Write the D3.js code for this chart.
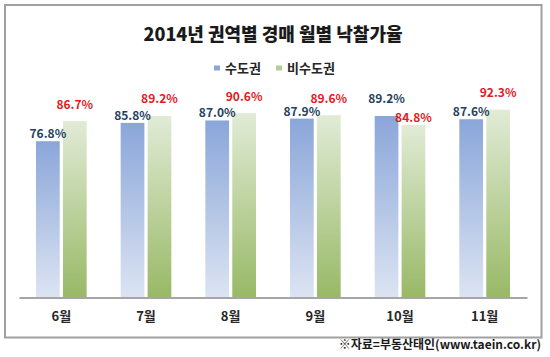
<!DOCTYPE html>
<html><head><meta charset="utf-8">
<script src="https://d3js.org/d3.v7.min.js"></script>
<style>
html,body{margin:0;padding:0;background:#fff;}
svg{display:block;font-family:"Noto Sans CJK KR","Noto Sans",sans-serif;}
</style></head>
<body><svg id="chart" width="550" height="357"></svg>
<script>
const title = "2014년 권역별 경매 월별 낙찰가율";
const months = ["6월","7월","8월","9월","10월","11월"];
const seriesNames = ["수도권","비수도권"];
const capital = [76.8, 85.8, 87.0, 87.9, 89.2, 87.6];
const nonCapital = [86.7, 89.2, 90.6, 89.6, 84.8, 92.3];
const source = "※자료=부동산태인(www.taein.co.kr)";

const svg = d3.select("#chart");
const defs = svg.append("defs");
const gb = defs.append("linearGradient").attr("id","gBlue").attr("x1",0).attr("y1",0).attr("x2",0).attr("y2",1);
gb.append("stop").attr("offset","0%").attr("stop-color","#8AA6D9");
gb.append("stop").attr("offset","100%").attr("stop-color","#DCE4F2");
const gg = defs.append("linearGradient").attr("id","gGreen").attr("x1",0).attr("y1",0).attr("x2",0).attr("y2",1);
gg.append("stop").attr("offset","0%").attr("stop-color","#E1EBD6");
gg.append("stop").attr("offset","100%").attr("stop-color","#98B966");

// frame
svg.append("rect").attr("x",5).attr("y",5).attr("width",536.5).attr("height",332.5)
  .attr("fill","#fff").attr("stroke","#A0A0A0").attr("stroke-width",2);

const x = d3.scaleBand().domain(months).range([19,527]).paddingInner(0).paddingOuter(0);
const inner = d3.scaleBand().domain(seriesNames).range([17, x.bandwidth()-17]).paddingInner(0.12);
const y = d3.scaleLinear().domain([0,100]).range([297.5, 94]);

const data = months.map((m,i)=>{
  const hi = Math.max(capital[i], nonCapital[i]);
  return {m, vals:[{s:seriesNames[0],v:capital[i],hi:capital[i]===hi},{s:seriesNames[1],v:nonCapital[i],hi:nonCapital[i]===hi}]};
});

const g = svg.append("g");
const groups = g.selectAll("g.grp").data(data).join("g").attr("transform",d=>`translate(${x(d.m)},0)`);
groups.selectAll("rect").data(d=>d.vals).join("rect")
  .attr("x",d=>inner(d.s)).attr("width",inner.bandwidth())
  .attr("y",d=>y(d.v)).attr("height",d=>y(0)-y(d.v))
  .attr("fill",(d,i)=>i===0?"url(#gBlue)":"url(#gGreen)");
groups.selectAll("text.val").data(d=>d.vals).join("text").attr("class","val")
  .attr("x",d=>inner(d.s)+inner.bandwidth()/2)
  .attr("y",d=>y(d.v)-(d.hi?12.5:3))
  .attr("text-anchor","middle").attr("font-size",12).attr("font-weight","bold")
  .attr("fill",(d,i)=>i===0?"#243F60":"#E5191F")
  .text(d=>d.v.toFixed(1)+"%");

// axis
const xAxis = d3.axisBottom(x).tickSize(0).tickPadding(14);
const ax = svg.append("g").attr("transform",`translate(0,${y(0)})`).call(xAxis);
ax.select(".domain").attr("stroke","#A6A6A6").attr("stroke-width",2);
ax.selectAll("text").attr("font-size",13).attr("font-weight","bold").attr("fill","#262626")
  .attr("font-family","'Noto Sans CJK KR',sans-serif");

// title
svg.append("text").attr("x",273).attr("y",41).attr("text-anchor","middle")
  .attr("font-size",18).attr("font-weight",900).attr("fill","#1a1a1a").text(title);

// legend
const legendItems = [{name:seriesNames[0],c:"#8AA6D9",x:214},{name:seriesNames[1],c:"#B4CC96",x:276}];
const lg = svg.append("g");
legendItems.forEach(it=>{
  lg.append("rect").attr("x",it.x).attr("y",65.5).attr("width",6).attr("height",5).attr("fill",it.c);
  lg.append("text").attr("x",it.x+11).attr("y",73).attr("font-size",13).attr("font-weight","bold")
    .attr("fill","#262626").text(it.name);
});

// source
svg.append("text").attr("x",541).attr("y",349).attr("text-anchor","end")
  .attr("font-size",12).attr("font-weight","bold").attr("fill","#1a1a1a").text(source);
</script></body></html>
